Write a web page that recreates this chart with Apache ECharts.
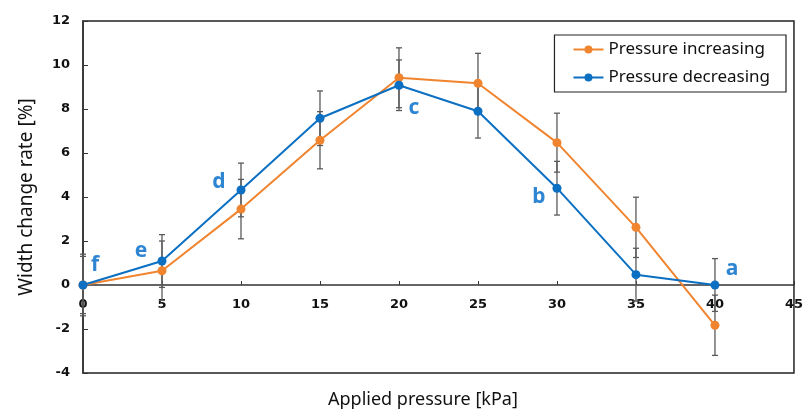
<!DOCTYPE html>
<html>
<head>
<meta charset="utf-8">
<script src="https://cdn.jsdelivr.net/npm/echarts@6/dist/echarts.min.js"></script>
<style>
  html, body { margin: 0; padding: 0; background: #fff; }
  #main { width: 806px; height: 413px; }
</style>
</head>
<body>
<div id="main"></div>
<script>
// applied pressure [kPa]
const pressure = [0, 5, 10, 15, 20, 25, 30, 35, 40];
// width change rate [%]
const increasing = [0, 0.65, 3.45, 6.58, 9.42, 9.17, 6.47, 2.62, -1.83];
const decreasing = [0, 1.09, 4.32, 7.58, 9.08, 7.9, 4.4, 0.47, 0];
// error bar half-lengths
const errIncreasing = [1.3, 1.35, 1.35, 1.3, 1.36, 1.36, 1.34, 1.37, 1.37];
const errDecreasing = [1.4, 1.2, 1.22, 1.24, 1.15, 1.22, 1.22, 1.2, 1.2];
// letters beside the decreasing points
const pointLetters = ['f', 'e', 'd', '', 'c', '', 'b', '', 'a'];

const orange = '#F0842F';
const blue = '#0B6FC2';
const letterBlue = '#2E86D2';
const letterOffset = {
    f: [12, -20], e: [-21, -10], d: [-22, -8],
    c: [15, 23], b: [-18, 9], a: [17, -16]
};

function errorBars(params, api) {
    let x = api.value(0), y = api.value(1), e = api.value(2);
    let hi = api.coord([x, y + e]);
    let lo = api.coord([x, y - e]);
    let w = 3;
    let style = { stroke: '#5a5a5a', lineWidth: 1.3 };
    return {
        type: 'group',
        children: [
            { type: 'line', shape: { x1: hi[0], y1: hi[1], x2: lo[0], y2: lo[1] }, style: style },
            { type: 'line', shape: { x1: hi[0] - w, y1: hi[1], x2: hi[0] + w, y2: hi[1] }, style: style },
            { type: 'line', shape: { x1: lo[0] - w, y1: lo[1], x2: lo[0] + w, y2: lo[1] }, style: style }
        ]
    };
}

let myChart = echarts.init(document.getElementById('main'));
myChart.setOption({
    animation: false,
    textStyle: { fontFamily: 'Noto Sans' },
    grid: {
        left: 83, right: 9, top: 21, bottom: 40,
        show: true, borderColor: '#222', borderWidth: 1.5
    },
    legend: {
        orient: 'vertical',
        right: 20, top: 35,
        padding: [6, 16, 6, 18],
        itemGap: 11,
        itemWidth: 30, itemHeight: 10,
        borderColor: '#222', borderWidth: 1.2,
        textStyle: { fontSize: 17, color: '#111', fontFamily: 'Noto Sans' },
        data: ['Pressure increasing', 'Pressure decreasing']
    },
    xAxis: {
        type: 'value', min: 0, max: 45, interval: 5,
        // sit the axis on y = 0, which is 4/16 of the plot height above the bottom
        axisLine: { onZero: false, lineStyle: { color: '#333', width: 1.5 } },
        offset: -88,
        axisTick: { inside: true, length: 4, lineStyle: { color: '#333' } },
        axisLabel: { margin: 13, color: '#111', fontSize: 13, fontWeight: 'bold', fontFamily: 'DejaVu Sans' },
        splitLine: { show: false }
    },
    yAxis: {
        type: 'value', min: -4, max: 12, interval: 2,
        name: 'Width change rate [%]',
        nameLocation: 'middle', nameGap: 47,
        nameTextStyle: { fontSize: 19, color: '#111', fontFamily: 'Noto Sans' },
        axisLine: { show: true, lineStyle: { color: '#333', width: 1.5 } },
        axisTick: { show: true, inside: true, length: 5, lineStyle: { color: '#333' } },
        axisLabel: { margin: 13, color: '#111', fontSize: 13, fontWeight: 'bold', fontFamily: 'DejaVu Sans' },
        splitLine: { show: false }
    },
    graphic: [{
        type: 'text', left: 328, top: 391,
        style: { text: 'Applied pressure [kPa]', fontSize: 18, fill: '#111', fontFamily: 'Noto Sans' }
    }],
    series: [
        {
            name: 'err increasing', type: 'custom', z: 1,
            renderItem: errorBars,
            data: pressure.map((p, i) => [p, increasing[i], errIncreasing[i]])
        },
        {
            name: 'err decreasing', type: 'custom', z: 1,
            renderItem: errorBars,
            data: pressure.map((p, i) => [p, decreasing[i], errDecreasing[i]])
        },
        {
            name: 'Pressure increasing', type: 'line', z: 3,
            symbol: 'circle', symbolSize: 9,
            itemStyle: { color: orange },
            lineStyle: { color: orange, width: 2 },
            data: pressure.map((p, i) => [p, increasing[i]])
        },
        {
            name: 'Pressure decreasing', type: 'line', z: 4,
            symbol: 'circle', symbolSize: 9,
            itemStyle: { color: blue },
            lineStyle: { color: blue, width: 2 },
            data: pressure.map((p, i) => {
                let letter = pointLetters[i];
                let item = { value: [p, decreasing[i]] };
                if (letter) {
                    item.label = {
                        show: true, position: 'inside',
                        formatter: letter,
                        offset: letterOffset[letter],
                        color: letterBlue, fontSize: 21, fontWeight: 'bold',
                        fontFamily: 'Noto Sans'
                    };
                }
                return item;
            })
        }
    ]
});
</script>
</body>
</html>
